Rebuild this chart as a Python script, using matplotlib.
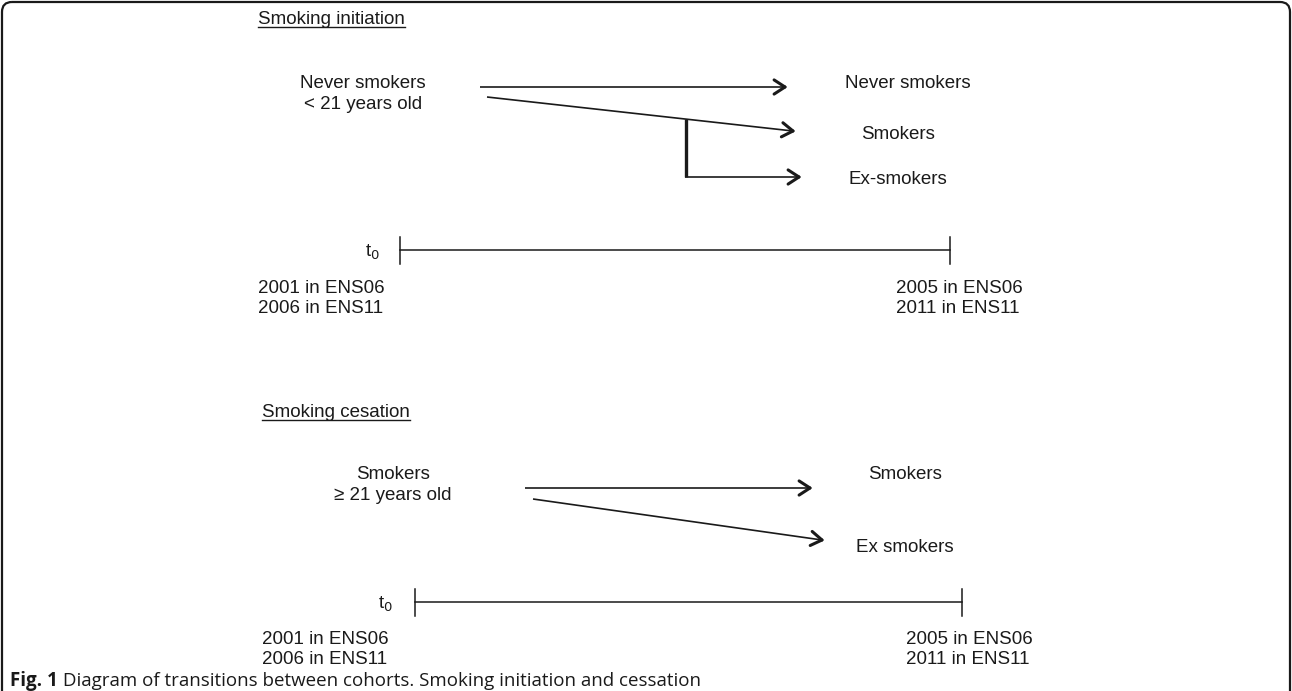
import numpy as np
import matplotlib.pyplot as plt
from matplotlib.patches import FancyBboxPatch

plt.rcParams['font.family'] = ['Liberation Sans', 'DejaVu Sans']

# texts of the diagram
section_titles = ["Smoking initiation", "Smoking cesation"]
source_labels = ["Never smokers\n< 21 years old", "Smokers\n\u2265 21 years old"]
targets_init = ["Never smokers", "Smokers", "Ex-smokers"]
targets_cess = ["Smokers", "Ex smokers"]
start_labels = ["2001 in ENS06", "2006 in ENS11"]
end_labels = ["2005 in ENS06", "2011 in ENS11"]
caption_bold = "Fig. 1"
caption_text = " Diagram of transitions between cohorts. Smoking initiation and cessation"

W, H = 1292, 691
fig = plt.figure(figsize=(W / 100, H / 100), dpi=100)
ax = fig.add_axes([0, 0, 1, 1])
ax.set_xlim(0, W)
ax.set_ylim(H, 0)
ax.axis('off')

ink = '#1a1a1a'
fs = 13.5

# frame around figure
frame = FancyBboxPatch((2, 2), W - 4, H + 40, boxstyle="round,pad=0,rounding_size=10",
                       fc='none', ec=ink, lw=1.6, clip_on=True)
ax.add_patch(frame)


def arrow(x0, y0, x1, y1):
    ax.plot([x0, x1], [y0, y1], color=ink, lw=1.2, solid_capstyle='butt')
    d = np.array([x1 - x0, y1 - y0], dtype=float)
    d /= np.hypot(*d)
    for ang in (np.radians(33), -np.radians(33)):
        c, s = np.cos(ang), np.sin(ang)
        back = -np.array([c * d[0] - s * d[1], s * d[0] + c * d[1]]) * 13
        ax.plot([x1 + back[0], x1], [y1 + back[1], y1], color=ink, lw=2.2,
                solid_capstyle='round')


def underlined(x, y, s):
    t = ax.text(x, y, s, fontsize=fs, color=ink, va='center')
    fig.canvas.draw()
    bb = t.get_window_extent().transformed(ax.transData.inverted())
    ax.plot([bb.x0, bb.x1], [y + 8, y + 8], color=ink, lw=1.0)


def timeline(x0, x1, y, lab_x0, lab_x1, t_x):
    ax.plot([x0, x1], [y, y], color=ink, lw=1.1)
    for x in (x0, x1):
        ax.plot([x, x], [y - 13, y + 14], color=ink, lw=1.1)
    ax.text(t_x, y + 2, "t$_0$", fontsize=fs, color=ink, ha='center', va='center')
    for i, (a, b) in enumerate(zip(start_labels, end_labels)):
        ax.text(lab_x0, y + 38 + 20 * i, a, fontsize=fs, color=ink, ha='left', va='center')
        ax.text(lab_x1, y + 38 + 20 * i, b, fontsize=fs, color=ink, ha='left', va='center')


# Smoking initiation
underlined(258, 19, section_titles[0])
ax.text(363, 94, source_labels[0], fontsize=fs, color=ink, ha='center', va='center',
        linespacing=1.3)
arrow(480, 87, 785, 87)
arrow(487, 97, 793, 131)
bx = 686
by = 97 + (bx - 487) * (131 - 97) / (793 - 487)
ax.plot([bx, bx], [by, 177], color=ink, lw=2.4, solid_capstyle='butt')
arrow(bx - 1, 177, 799, 177)
for lab, (x, y) in zip(targets_init, [(908, 83), (898, 134), (898, 179)]):
    ax.text(x, y, lab, fontsize=fs, color=ink, ha='center', va='center')
timeline(400, 950, 250, 258, 896, 372)

# Smoking cesation
underlined(262, 412, section_titles[1])
ax.text(393, 485, source_labels[1], fontsize=fs, color=ink, ha='center', va='center',
        linespacing=1.3)
arrow(525, 488, 810, 488)
arrow(533, 499, 822, 540)
for lab, (x, y) in zip(targets_cess, [(905, 474), (905, 548)]):
    ax.text(x, y, lab, fontsize=fs, color=ink, ha='center', va='center')
timeline(415, 962, 602, 262, 906, 385)

# caption
cap_font = ['Open Sans', 'DejaVu Sans']
t = ax.text(10, 681, caption_bold, fontsize=13.5, fontweight='bold', color=ink, va='center',
            family=cap_font)
fig.canvas.draw()
bb = t.get_window_extent().transformed(ax.transData.inverted())
ax.text(bb.x1, 681, caption_text, fontsize=13.5, color=ink, va='center', family=cap_font)

fig.savefig("out.png", dpi=100)
